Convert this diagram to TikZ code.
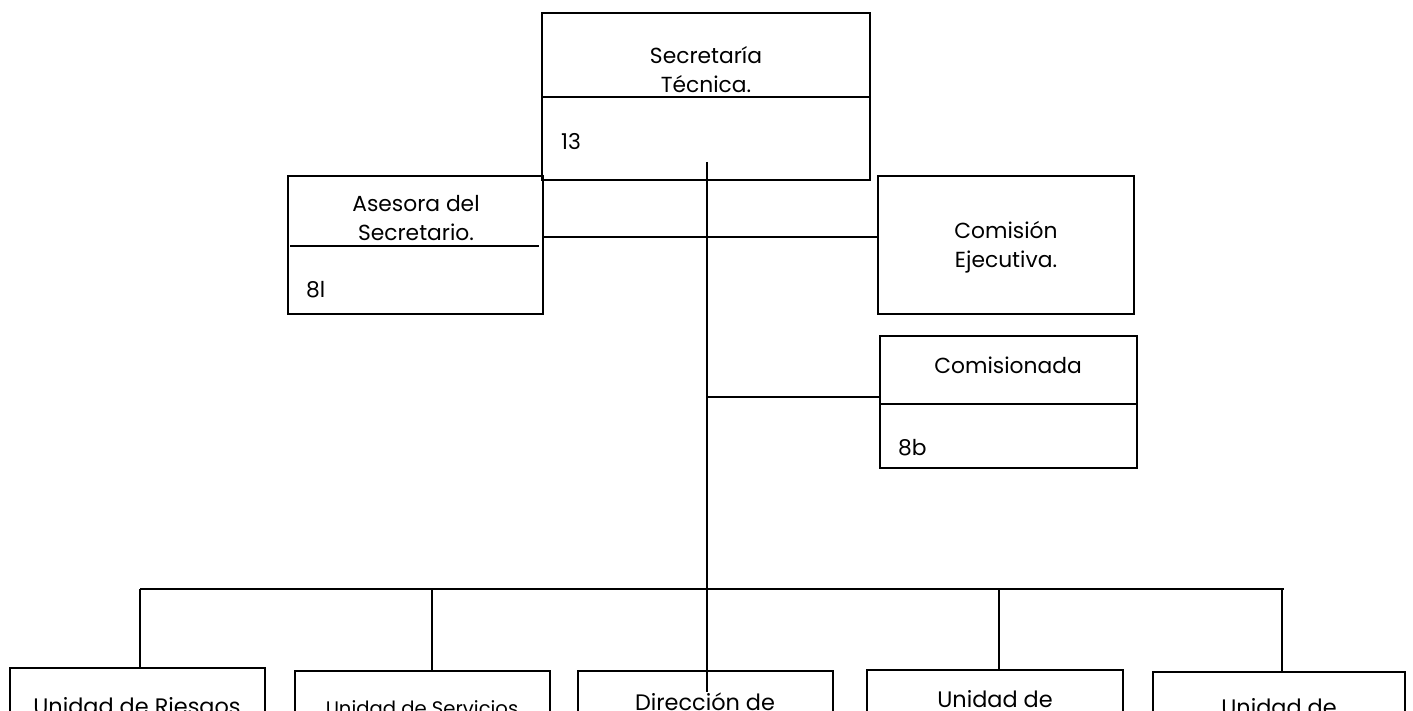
\documentclass[tikz,border=0pt]{standalone}
\usepackage{fontspec}
\setmainfont{Poppins}
\begin{document}
\begin{tikzpicture}[x=1pt,y=-1pt,
  box/.style={draw,line width=1.8pt,inner sep=0pt,outer sep=0pt,rectangle},
  ln/.style={line width=1.8pt},
  lbl/.style={inner sep=0pt,align=center,font=\fontsize{21.8}{28.5}\selectfont},
  num/.style={inner sep=0pt,anchor=west,font=\fontsize{21.8}{28.5}\selectfont},
  low/.style={inner sep=0pt,anchor=base,font=\fontsize{22.4}{28.5}\selectfont}]
\useasboundingbox (0,0) rectangle (1413,711);
\clip (0,0) rectangle (1413,711);
% upper boxes
\node[box,minimum width=328pt,minimum height=167pt] (sec) at (706,96.5) {};
\draw[ln] (sec.west |- 0,97) -- (sec.east |- 0,97);
\node[lbl] (sectxt) at (706,69.5) {Secretaría\\Técnica.};
\node[num] (sec13) at (561,142) {13};

\node[box,minimum width=255pt,minimum height=138pt] (ase) at (415.5,245) {};
\draw[line width=1.4pt] ([xshift=2pt]ase.west |- 0,246) -- ([xshift=-4pt]ase.east |- 0,246);
\node[lbl] (asetxt) at (416,218) {Asesora del\\Secretario.};
\node[num] (ase8) at (306,290) {8l};

\node[box,minimum width=256pt,minimum height=138pt] (ce) at (1006,245) {};
\node[lbl] (cetxt) at (1006,247) {Comisión\\Ejecutiva.};

\node[box,minimum width=257pt,minimum height=132pt] (com) at (1008.5,402) {};
\draw[ln] (com.west |- 0,404) -- (com.east |- 0,404);
\node[lbl] (comtxt) at (1008,365) {Comisionada};
\node[num] (com8) at (898,448) {8b};

% bottom boxes (cut by the page edge, as in the original)
\node[box,anchor=north,minimum width=255pt,minimum height=100pt] (b1) at (137.5,668) {};
\node[box,anchor=north,minimum width=255pt,minimum height=100pt] (b2) at (422.5,671) {};
\node[box,anchor=north,minimum width=255pt,minimum height=100pt] (b3) at (705.5,671) {};
\node[box,anchor=north,minimum width=256pt,minimum height=100pt] (b4) at (995,670) {};
\node[box,anchor=north,minimum width=252pt,minimum height=100pt] (b5) at (1279,672) {};
\node[low] (b1txt) at (137,714) {Unidad de Riesgos};
\node[low,font=\fontsize{19.6}{24}\selectfont] (b2txt) at (422,715) {Unidad de Servicios};
\node[low] (b3txt) at (705,710) {Dirección de};
\node[low] (b4txt) at (995,707) {Unidad de};
\node[low] (b5txt) at (1279,715) {Unidad de};

% connectors
\coordinate (mtop) at (707,162);
\coordinate (mbot) at (707,692);
\coordinate (bus) at (707,589);
\draw[ln] (mtop) -- (mbot);
\draw[ln] (ase.east |- 0,237) -- (ce.west |- 0,237);
\draw[ln] (mtop |- 0,397) -- (com.west |- 0,397);
\draw[ln] ([xshift=2.5pt]b1.north |- bus) -- ([xshift=4.5pt]b5.north |- bus);
\draw[ln] ([xshift=2.5pt]b1.north |- bus) -- ([xshift=2.5pt]b1.north);
\draw[ln] ([xshift=9.5pt]b2.north |- bus) -- ([xshift=9.5pt]b2.north);
\draw[ln] ([xshift=4pt]b4.north |- bus) -- ([xshift=4pt]b4.north);
\draw[ln] ([xshift=3pt]b5.north |- bus) -- ([xshift=3pt]b5.north);
\end{tikzpicture}
\end{document}
